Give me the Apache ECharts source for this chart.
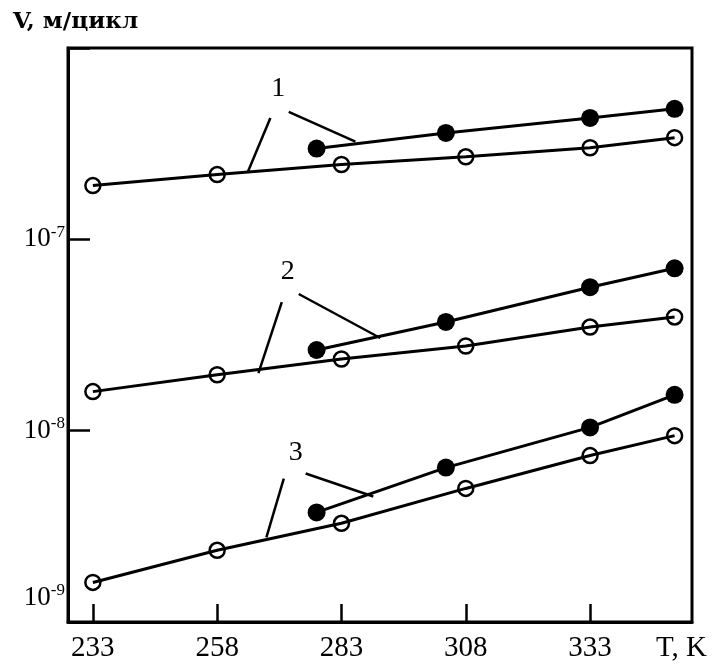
<!DOCTYPE html>
<html>
<head>
<meta charset="utf-8">
<script src="https://cdn.jsdelivr.net/npm/echarts@6/dist/echarts.min.js"></script>
<style>
  html, body {margin: 0; padding: 0; background: #fff;}
  #chart {width: 713px; height: 667px;}
</style>
</head>
<body>
<div id="chart"></div>
<script>
// temperatures, K
const tOpen = [233, 258, 283, 308, 333, 350];
const tFilled = [278, 304, 333, 350];
const xTicks = [233, 258, 283, 308, 333];

// crack growth rate V, m/cycle
const open1 = [1.91e-7, 2.18e-7, 2.46e-7, 2.70e-7, 3.01e-7, 3.40e-7];
const filled1 = [2.98e-7, 3.60e-7, 4.31e-7, 4.81e-7];
const open2 = [1.60e-8, 1.96e-8, 2.37e-8, 2.77e-8, 3.48e-8, 3.93e-8];
const filled2 = [2.64e-8, 3.70e-8, 5.62e-8, 7.06e-8];
const open3 = [1.61e-9, 2.37e-9, 3.28e-9, 4.99e-9, 7.41e-9, 9.42e-9];
const filled3 = [3.74e-9, 6.41e-9, 1.04e-8, 1.54e-8];

// curve labels and their leader lines (data coordinates)
const curveLabels = [
  {name: '1', value: [270.3, 6.11e-7]},
  {name: '2', value: [272.2, 6.81e-8]},
  {name: '3', value: [273.8, 7.67e-9]},
];
const leaders = [
  [[268.7, 4.31e-7], [264.1, 2.23e-7]],
  [[272.4, 4.64e-7], [285.8, 3.24e-7]],
  [[271.0, 4.70e-8], [266.3, 2.00e-8]],
  [[274.4, 5.18e-8], [290.8, 3.05e-8]],
  [[271.4, 5.62e-9], [267.9, 2.77e-9]],
  [[275.8, 5.97e-9], [289.4, 4.53e-9]],
];

const font = 'Liberation Serif';
const pairs = (xs, ys) => xs.map((x, i) => [x, ys[i]]);

const openSeries = data => ({
  type: 'line',
  data: pairs(tOpen, data),
  symbol: 'circle',
  symbolSize: 15,
  lineStyle: {color: '#000', width: 3},
  itemStyle: {color: 'rgba(0,0,0,0)', borderColor: '#000', borderWidth: 2.5},
  animation: false,
});
const filledSeries = data => ({
  type: 'line',
  data: pairs(tFilled, data),
  symbol: 'circle',
  symbolSize: 18,
  lineStyle: {color: '#000', width: 3},
  itemStyle: {color: '#000'},
  animation: false,
});

const chart = echarts.init(document.getElementById('chart'));
chart.setOption({
  backgroundColor: '#fff',
  grid: {left: 68, right: 21, top: 48, bottom: 45, show: true, borderColor: '#000', borderWidth: 3},
  xAxis: {
    type: 'value',
    min: 228,
    max: 353.5,
    splitLine: {show: false},
    axisLine: {lineStyle: {color: '#000', width: 3}},
    axisTick: {inside: true, length: 18, customValues: xTicks, lineStyle: {color: '#000', width: 2.5}},
    axisLabel: {customValues: xTicks, color: '#000', fontFamily: font, fontSize: 29, margin: 12},
    name: 'T, K',
    nameLocation: 'end',
    nameGap: 15,
    nameTextStyle: {color: '#000', fontFamily: font, fontSize: 29, align: 'right', verticalAlign: 'top', padding: [12, 0, 0, 0]},
  },
  yAxis: {
    type: 'log',
    logBase: 10,
    min: 1e-9,
    max: 1e-6,
    splitLine: {show: false},
    axisLine: {lineStyle: {color: '#000', width: 3}},
    axisTick: {inside: true, length: 22, lineStyle: {color: '#000', width: 2.5}},
    axisLabel: {
      margin: 3,
      color: '#000',
      formatter: v => {
        const e = Math.round(Math.log10(v));
        if (e === -6) return '';
        if (e === -9) return '{b9|10}{s9|' + e + '}';
        return '{b|10}{s|' + e + '}';
      },
      rich: {
        b: {fontFamily: font, fontSize: 27, color: '#000', lineHeight: 30},
        s: {fontFamily: font, fontSize: 17, color: '#000', padding: [0, 0, 14, 0]},
        b9: {fontFamily: font, fontSize: 27, color: '#000', padding: [0, 0, 48, 0]},
        s9: {fontFamily: font, fontSize: 17, color: '#000', padding: [0, 0, 62, 0]},
      },
    },
    name: 'V, м/цикл',
    nameLocation: 'end',
    nameGap: 26,
    nameTextStyle: {
      color: '#000', fontFamily: 'DejaVu Serif', fontSize: 23, fontWeight: 'bold',
      align: 'left', verticalAlign: 'middle', padding: [0, 0, 0, -55],
    },
  },
  series: [
    openSeries(open1), filledSeries(filled1),
    openSeries(open2), filledSeries(filled2),
    openSeries(open3), filledSeries(filled3),
    {
      type: 'lines',
      coordinateSystem: 'cartesian2d',
      data: leaders.map(c => ({coords: c})),
      lineStyle: {color: '#000', width: 2.5, opacity: 1},
      animation: false,
    },
    {
      type: 'scatter',
      data: curveLabels,
      symbolSize: 0,
      itemStyle: {opacity: 1},
      label: {show: true, position: 'inside', formatter: p => p.name, color: '#000', opacity: 1, fontFamily: font, fontSize: 28},
      emphasis: {disabled: true},
      animation: false,
    },
  ],
});
</script>
</body>
</html>
